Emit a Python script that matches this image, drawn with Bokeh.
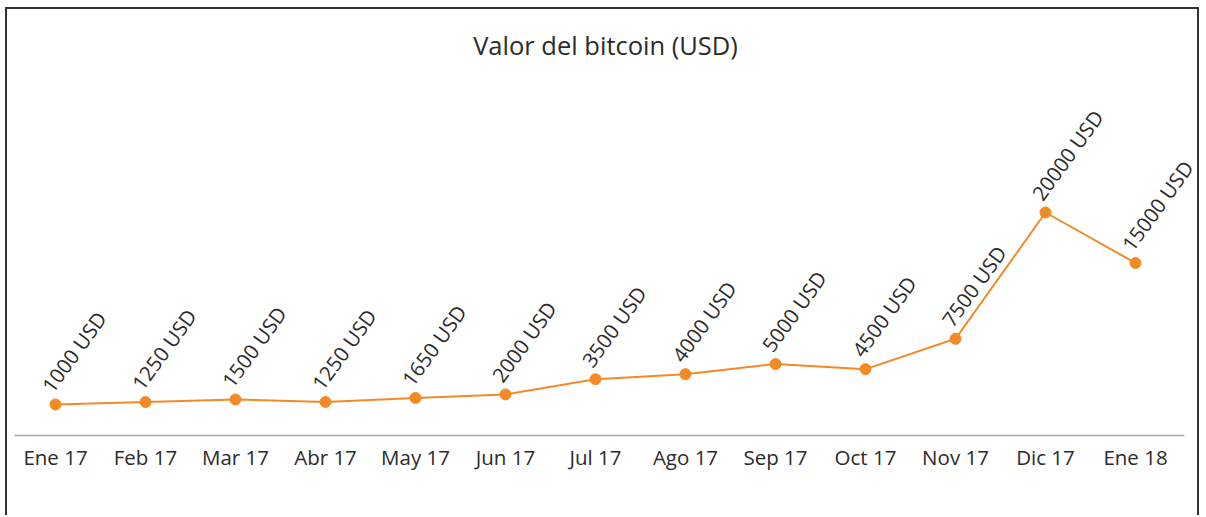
import math
from bokeh.plotting import figure
from bokeh.models import ColumnDataSource, Range1d, FixedTicker, Label
from bokeh.core.properties import value
from bokeh.embed import file_html
from bokeh.resources import INLINE

months = ["Ene 17", "Feb 17", "Mar 17", "Abr 17", "May 17", "Jun 17", "Jul 17",
          "Ago 17", "Sep 17", "Oct 17", "Nov 17", "Dic 17", "Ene 18"]
prices = [1000, 1250, 1500, 1250, 1650, 2000, 3500, 4000, 5000, 4500, 7500, 20000, 15000]
labels = [f"{v} USD" for v in prices]
title_text = "Valor del bitcoin (USD)"

ORANGE = "#F28A26"
TEXT = "#2b2b2b"
FONT = "Open Sans"

idx = list(range(len(months)))
src = ColumnDataSource(dict(x=idx, y=prices, lab=labels))

p = figure(width=1194, height=508, output_backend="svg", toolbar_location=None,
           x_range=Range1d(-0.5333, 12.7333), y_range=Range1d(-2068, 40089),
           min_border_left=0, min_border_right=0, min_border_top=0, min_border_bottom=82)
p.styles = {"margin-left": "5px", "margin-top": "7px",
            "border-left": "2px solid #333333", "border-top": "2px solid #333333",
            "border-right": "2px solid #333333"}
p.outline_line_color = None
p.background_fill_color = "white"
p.border_fill_color = "white"
p.grid.visible = False
p.yaxis.visible = False

ax = p.xaxis[0]
ax.ticker = FixedTicker(ticks=idx)
ax.major_label_overrides = {i: m for i, m in enumerate(months)}
ax.major_tick_line_color = None
ax.minor_tick_line_color = None
ax.axis_line_color = "#a6a6a6"
ax.axis_line_width = 1.5
ax.bounds = (-0.4556, 12.544)
ax.major_label_text_font = FONT
ax.major_label_text_font_size = "20.5px"
ax.major_label_text_color = TEXT
ax.major_label_standoff = 1

p.line("x", "y", source=src, line_color=ORANGE, line_width=2)
p.scatter("x", "y", source=src, size=11, fill_color=ORANGE, line_color=ORANGE)
p.text("x", "y", text="lab", source=src, angle=math.radians(54),
       text_font=value(FONT), text_font_size="20.5px", text_color=TEXT,
       text_align="left", text_baseline="middle", x_offset=-9, y_offset=-15)

p.add_layout(Label(x=598, y=391, x_units="screen", y_units="screen", text=title_text,
                   text_font=FONT, text_font_size="25.5px", text_color=TEXT,
                   text_align="center", text_baseline="middle"))

open("out.html", "w").write(file_html(p, INLINE))
